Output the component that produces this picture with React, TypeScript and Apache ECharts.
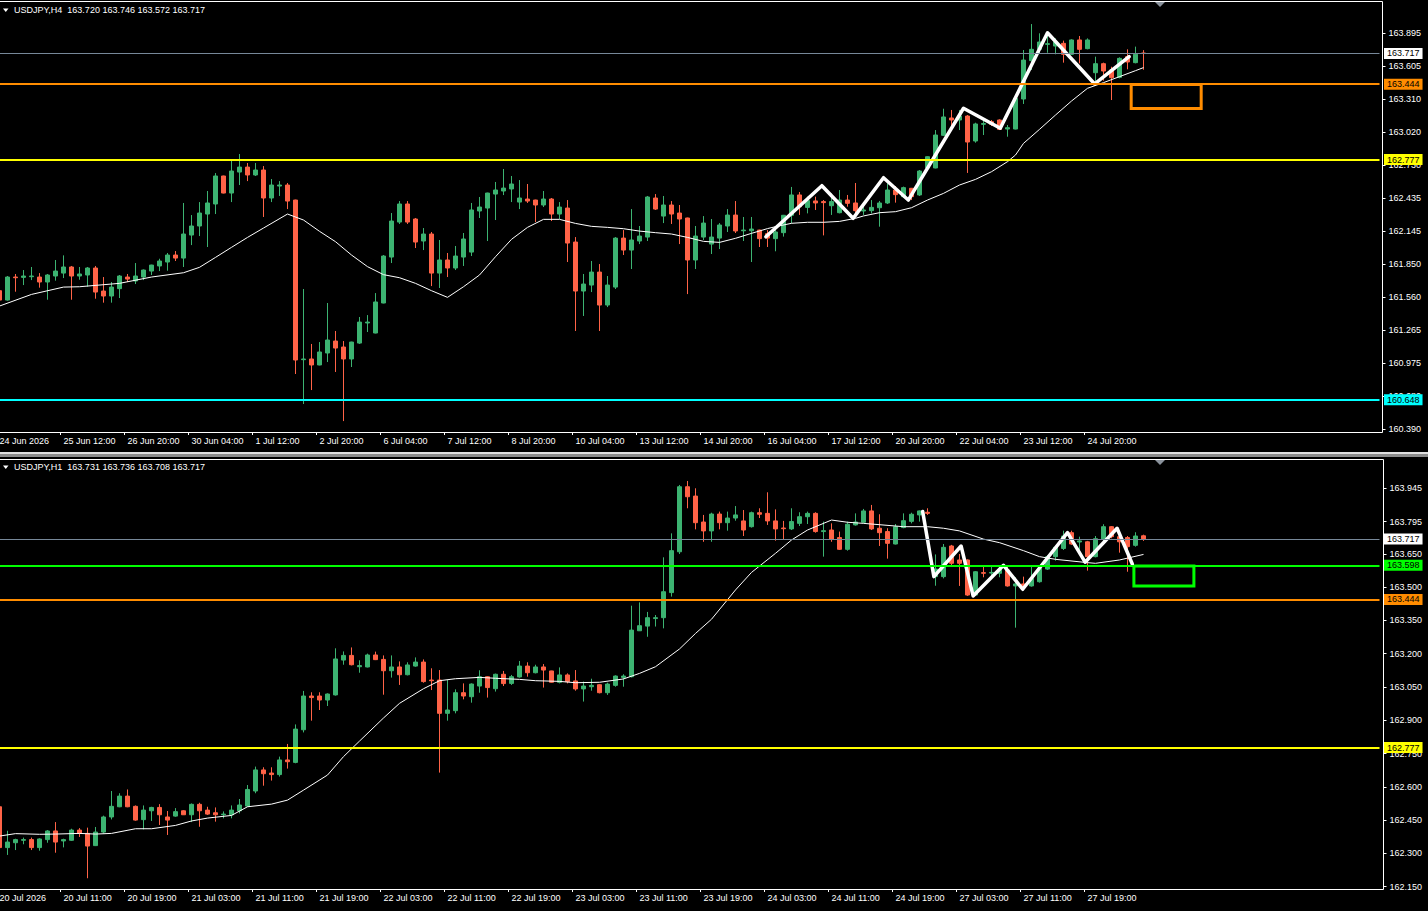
import React, { useEffect, useRef } from "react";
import * as echarts from "echarts";

// ---------- texts ----------
const topTitle = "USDJPY,H4  163.720 163.746 163.572 163.717";
const bottomTitle = "USDJPY,H1  163.731 163.736 163.708 163.717";

const topTickLabels = [
  "24 Jun 2026", "25 Jun 12:00", "26 Jun 20:00", "30 Jun 04:00", "1 Jul 12:00", "2 Jul 20:00",
  "6 Jul 04:00", "7 Jul 12:00", "8 Jul 20:00", "10 Jul 04:00", "13 Jul 12:00", "14 Jul 20:00",
  "16 Jul 04:00", "17 Jul 12:00", "20 Jul 20:00", "22 Jul 04:00", "23 Jul 12:00", "24 Jul 20:00",
];
const bottomTickLabels = [
  "20 Jul 2026", "20 Jul 11:00", "20 Jul 19:00", "21 Jul 03:00", "21 Jul 11:00", "21 Jul 19:00",
  "22 Jul 03:00", "22 Jul 11:00", "22 Jul 19:00", "23 Jul 03:00", "23 Jul 11:00", "23 Jul 19:00",
  "24 Jul 03:00", "24 Jul 11:00", "24 Jul 19:00", "27 Jul 03:00", "27 Jul 11:00", "27 Jul 19:00",
];
const topPriceTicks = [163.895, 163.605, 163.31, 163.02, 162.73, 162.435, 162.145, 161.85, 161.56, 161.265, 160.975, 160.68, 160.39];
const bottomPriceTicks = [163.945, 163.795, 163.65, 163.5, 163.35, 163.2, 163.05, 162.9, 162.75, 162.6, 162.45, 162.3, 162.15];

// ---------- H4 candles: [open, close, low, high] ----------
const topCandles = [
  [161.615,161.532,161.518,161.627],[161.532,161.736,161.526,161.745],[161.736,161.730,161.606,161.763],[161.733,161.745,161.665,161.798],
  [161.739,161.745,161.709,161.825],[161.736,161.692,161.642,161.771],[161.692,161.754,161.535,161.763],[161.745,161.789,161.704,161.887],
  [161.771,161.825,161.727,161.928],[161.825,161.745,161.535,161.834],[161.745,161.763,161.712,161.825],[161.754,161.816,161.650,161.825],
  [161.816,161.603,161.544,161.834],[161.612,161.568,161.509,161.736],[161.568,161.647,161.509,161.692],[161.633,161.745,161.550,161.754],
  [161.736,161.718,161.692,161.763],[161.701,161.745,161.674,161.860],[161.736,161.798,161.709,161.803],[161.789,161.842,161.754,161.845],
  [161.834,161.878,161.789,161.898],[161.869,161.931,161.792,161.949],[161.931,161.904,161.878,161.966],[161.904,162.117,161.825,162.392],
  [162.108,162.188,162.019,162.285],[162.188,162.303,162.099,162.400],[162.294,162.392,162.002,162.498],[162.383,162.631,162.294,162.657],
  [162.631,162.480,162.477,162.634],[162.480,162.675,162.400,162.764],[162.666,162.710,162.551,162.826],[162.710,162.640,162.586,162.746],
  [162.640,162.684,162.631,162.746],[162.684,162.436,162.268,162.719],[162.436,162.551,162.400,162.604],[162.542,162.551,162.454,162.586],
  [162.551,162.409,162.338,162.569],[162.418,161.001,160.877,162.421],[161.004,161.010,160.611,161.630],[161.010,160.957,160.735,161.143],
  [160.957,161.072,160.954,161.160],[161.063,161.178,160.983,161.506],[161.169,161.107,160.895,161.258],[161.116,161.010,160.460,161.169],
  [161.010,161.160,160.939,161.163],[161.151,161.337,161.143,161.382],[161.329,161.337,161.249,161.399],[161.240,161.515,161.237,161.594],
  [161.506,161.922,161.503,161.931],[161.913,162.232,161.860,162.303],[162.223,162.383,162.206,162.409],[162.383,162.223,162.206,162.409],
  [162.250,162.046,161.993,162.259],[162.055,162.117,161.975,162.170],[162.117,161.771,161.656,162.135],[161.771,161.887,161.639,162.064],
  [161.887,161.816,161.736,161.949],[161.816,161.922,161.798,162.011],[161.913,162.073,161.834,162.126],[161.957,162.330,161.922,162.392],
  [162.321,162.356,162.259,162.445],[162.347,162.480,162.055,162.483],[162.471,162.507,162.241,162.578],[162.498,162.524,162.462,162.693],
  [162.516,162.560,162.400,162.631],[162.400,162.436,162.338,162.595],[162.427,162.409,162.392,162.560],[162.418,162.374,162.223,162.421],
  [162.374,162.427,162.356,162.498],[162.427,162.294,162.232,162.436],[162.294,162.356,162.250,162.400],[162.347,162.037,161.869,162.418],
  [162.046,161.612,161.258,162.090],[161.612,161.674,161.391,161.763],[161.665,161.780,161.603,161.878],[161.780,161.488,161.258,161.851],
  [161.488,161.665,161.470,161.745],[161.647,162.081,161.630,162.090],[162.081,161.975,161.931,162.152],[161.975,162.064,161.807,162.338],
  [162.055,162.099,162.028,162.188],[162.090,162.445,162.055,162.454],[162.436,162.338,162.330,162.471],[162.276,162.374,162.214,162.454],
  [162.374,162.294,162.206,162.409],[162.303,162.250,162.028,162.374],[162.259,161.887,161.585,162.262],[161.887,162.099,161.807,162.188],
  [162.090,162.214,162.064,162.276],[162.028,162.090,161.940,162.250],[162.081,162.197,161.984,162.214],[162.188,162.285,162.135,162.338],
  [162.285,162.144,162.126,162.409],[162.146,162.152,162.055,162.268],[162.146,162.161,161.869,162.268],[162.152,162.076,162.002,162.155],
  [162.120,162.081,162.002,162.152],[162.076,162.135,161.964,162.164],[162.129,162.283,162.094,162.286],[162.283,162.463,162.212,162.534],
  [162.463,162.359,162.286,162.489],[162.353,162.413,162.300,162.448],[162.410,162.392,162.330,162.448],[162.404,162.395,162.105,162.418],
  [162.368,162.404,162.286,162.477],[162.306,162.418,162.300,162.507],[162.418,162.389,162.359,162.463],[162.392,162.324,162.271,162.569],
  [162.321,162.330,162.286,162.374],[162.324,162.353,162.300,162.418],[162.350,162.392,162.182,162.410],[162.392,162.507,162.383,162.566],
  [162.507,162.466,162.395,162.542],[162.448,162.528,162.439,162.537],[162.522,162.448,162.418,162.525],[162.463,162.675,162.454,162.684],
  [162.702,162.802,162.684,162.805],[162.702,162.994,162.699,163.038],[162.991,163.154,162.985,163.227],[163.145,163.127,163.038,163.216],
  [163.127,163.162,163.038,163.216],[163.162,162.932,162.658,163.171],[162.941,163.092,162.926,163.103],[163.089,163.095,162.994,163.136],
  [163.112,163.089,163.074,163.127],[163.127,163.044,163.038,163.133],[163.047,163.059,162.979,163.083],[163.047,163.319,163.044,163.322],
  [163.313,163.658,163.269,163.747],[163.653,163.753,163.570,163.977],[163.753,163.818,163.718,163.895],[163.797,163.803,163.723,163.901],
  [163.782,163.818,163.709,163.850],[163.806,163.709,163.635,163.830],[163.709,163.836,163.703,163.842],[163.836,163.753,163.629,163.871],
  [163.759,163.836,163.753,163.850],[163.546,163.626,163.467,163.688],[163.626,163.561,163.475,163.635],[163.570,163.502,163.304,163.599],
  [163.505,163.673,163.496,163.682],[163.688,163.641,163.576,163.753],[163.635,163.709,163.629,163.777],[163.720,163.717,163.572,163.746],
];

// ---------- H1 candles: [open, close, low, high] ----------
const bottomCandles = [
  [162.510,162.326,162.323,162.512],[162.326,162.351,162.293,162.402],[162.348,162.362,162.315,162.366],[162.359,162.362,162.341,162.371],
  [162.362,162.326,162.315,162.371],[162.326,162.365,162.312,162.368],[162.362,162.401,162.348,162.405],[162.401,162.351,162.303,162.441],
  [162.356,162.362,162.327,162.366],[162.359,162.405,162.356,162.411],[162.405,162.390,162.374,162.414],[162.390,162.333,162.188,162.416],
  [162.335,162.396,162.333,162.419],[162.396,162.464,162.390,162.470],[162.464,162.512,162.453,162.581],[162.510,162.558,162.508,162.571],
  [162.558,162.510,162.508,162.588],[162.512,162.450,162.447,162.516],[162.452,162.495,162.408,162.516],[162.492,162.507,162.446,162.510],
  [162.507,162.474,162.428,162.522],[162.464,162.450,162.383,162.491],[162.468,162.488,162.465,162.504],[162.492,162.474,162.473,162.495],
  [162.474,162.521,162.441,162.525],[162.521,162.492,162.420,162.528],[162.495,162.477,162.473,162.510],[162.483,162.474,162.443,162.507],
  [162.474,162.477,162.458,162.489],[162.474,162.495,162.458,162.516],[162.492,162.518,162.480,162.545],[162.513,162.588,162.510,162.608],
  [162.581,162.676,162.571,162.691],[162.676,162.659,162.605,162.688],[162.662,162.655,162.628,162.688],[162.655,162.721,162.646,162.736],
  [162.721,162.713,162.682,162.793],[162.710,162.860,162.706,162.881],[162.857,163.009,162.845,163.032],[163.009,163.002,162.898,163.026],
  [163.009,162.991,162.946,163.026],[162.991,163.018,162.964,163.021],[163.014,163.176,163.011,163.224],[163.171,163.192,163.150,163.210],
  [163.192,163.150,163.147,163.228],[163.141,163.146,163.114,163.170],[163.140,163.194,163.138,163.200],[163.194,163.173,163.171,163.209],
  [163.174,163.123,163.015,163.192],[163.123,163.140,163.092,163.192],[163.140,163.105,163.059,163.165],[163.105,163.149,163.102,163.161],
  [163.144,163.162,163.141,163.183],[163.162,163.074,163.069,163.174],[163.081,163.078,163.036,163.134],[163.081,162.931,162.664,163.126],
  [162.931,162.946,162.898,163.081],[162.943,163.024,162.931,163.039],[163.024,163.009,162.994,163.066],[163.006,163.063,162.979,163.066],
  [163.054,163.096,163.024,163.125],[163.096,163.047,163.002,163.099],[163.042,163.107,163.029,163.110],[163.107,163.065,163.054,163.122],
  [163.066,163.096,163.059,163.104],[163.095,163.144,163.092,163.167],[163.144,163.114,163.096,163.161],[163.114,163.140,163.111,163.150],
  [163.140,163.126,163.047,163.153],[163.122,163.071,163.069,163.123],[163.071,163.104,163.066,163.138],[163.104,163.074,163.066,163.111],
  [163.077,163.041,163.033,163.126],[163.041,163.054,162.984,163.074],[163.051,163.057,163.033,163.087],[163.060,163.024,163.021,163.063],
  [163.024,163.063,163.014,163.069],[163.057,163.099,163.051,163.102],[163.093,163.099,163.051,163.107],[163.096,163.306,163.093,163.416],
  [163.303,163.326,163.302,163.431],[163.324,163.362,163.276,163.388],[163.358,163.362,163.322,163.374],[163.362,163.479,163.314,163.634],
  [163.475,163.664,163.457,163.742],[163.659,163.952,163.649,163.960],[163.952,163.907,163.855,163.978],[163.910,163.790,163.760,163.945],
  [163.793,163.753,163.704,163.825],[163.753,163.829,163.704,163.835],[163.829,163.790,163.760,163.840],[163.790,163.811,163.754,163.840],
  [163.811,163.825,163.799,163.865],[163.798,163.757,163.730,163.847],[163.772,163.835,163.768,163.840],[163.835,163.828,163.811,163.855],
  [163.832,163.798,163.780,163.927],[163.798,163.762,163.709,163.850],[163.766,163.763,163.715,163.798],[163.762,163.795,163.757,163.855],
  [163.787,163.817,163.775,163.837],[163.817,163.832,163.784,163.840],[163.832,163.750,163.745,163.837],[163.750,163.754,163.637,163.795],
  [163.757,163.715,163.704,163.787],[163.723,163.670,163.667,163.750],[163.670,163.783,163.664,163.795],[163.780,163.793,163.777,163.832],
  [163.792,163.843,163.787,163.852],[163.843,163.762,163.757,163.870],[163.765,163.745,163.685,163.828],[163.750,163.697,163.628,163.765],
  [163.694,163.772,163.692,163.784],[163.768,163.799,163.765,163.832],[163.796,163.828,163.787,163.835],[163.825,163.843,163.795,163.845],
  [163.837,163.832,163.825,163.855],[163.547,163.581,163.506,163.647],[163.547,163.679,163.539,163.694],[163.685,163.607,163.595,163.690],
  [163.622,163.607,163.505,163.649],[163.622,163.464,163.460,163.625],[163.464,163.569,163.460,163.572],[163.565,163.562,163.544,163.592],
  [163.563,163.566,163.539,163.592],[163.562,163.580,163.544,163.595],[163.577,163.505,163.502,163.595],[163.505,163.514,163.317,163.544],
  [163.514,163.499,163.494,163.547],[163.505,163.539,163.502,163.595],[163.524,163.584,163.520,163.592],[163.581,163.637,163.577,163.644],
  [163.637,163.679,163.619,163.685],[163.674,163.730,163.667,163.754],[163.745,163.694,163.690,163.754],[163.703,163.708,163.659,163.727],
  [163.704,163.637,163.574,163.708],[163.637,163.718,163.634,163.730],[163.715,163.772,163.690,163.783],[163.772,163.727,163.720,163.775],
  [163.727,163.704,163.655,163.735],[163.723,163.682,163.569,163.730],[163.688,163.730,163.682,163.747],[163.731,163.717,163.708,163.736],
];

// ---------- moving averages: [bar index, price] ----------
const topMA = [
  [0,161.479],[4,161.582],[8,161.647],[10,161.650],[15,161.680],[19,161.736],[23,161.774],[25,161.822],[27,161.910],[29,161.999],
  [31,162.087],[33,162.170],[36,162.294],[38,162.241],[40,162.141],[42,162.049],[44,161.931],[46,161.828],[48,161.757],[50,161.730],
  [52,161.680],[54,161.615],[56,161.556],[58,161.650],[60,161.754],[62,161.916],[64,162.070],[66,162.176],[68,162.247],[70,162.247],
  [72,162.211],[74,162.185],[76,162.176],[78,162.164],[80,162.143],[82,162.129],[84,162.117],[86,162.087],[88,162.052],[90,162.043],
  [92,162.079],[94,162.123],[96,162.165],[97,162.182],[99,162.212],[101,162.221],[103,162.221],[105,162.229],[107,162.256],[108,162.277],
  [110,162.306],[112,162.315],[114,162.350],[116,162.418],[118,162.477],[120,162.551],[122,162.601],[124,162.669],[126,162.758],[127,162.817],
  [128,162.920],[130,163.044],[132,163.171],[134,163.295],[136,163.408],[138,163.458],[140,163.511],[142,163.564],[143,163.591],
];
const bottomMA = [
  [0,162.378],[2,162.389],[5,162.386],[7,162.387],[10,162.390],[12,162.387],[14,162.390],[17,162.411],[19,162.411],[22,162.426],
  [24,162.446],[26,162.459],[29,162.471],[31,162.510],[34,162.522],[36,162.540],[38,162.585],[41,162.653],[43,162.736],[45,162.806],
  [48,162.910],[50,162.976],[53,163.042],[55,163.078],[57,163.087],[60,163.093],[62,163.089],[65,163.084],[67,163.078],[70,163.075],
  [72,163.069],[75,163.071],[78,163.086],[80,163.111],[82,163.141],[85,163.221],[87,163.291],[89,163.355],[92,163.487],[94,163.566],
  [97,163.652],[99,163.712],[101,163.757],[104,163.802],[106,163.792],[108,163.787],[113,163.772],[116,163.772],[118,163.765],[120,163.753],
  [123,163.716],[125,163.700],[128,163.664],[130,163.637],[132,163.625],[136,163.610],[137,163.607],[140,163.622],[143,163.647],
];

// ---------- hand-drawn zigzags: [bar position, price] ----------
const topZigzag = [
  [95.8,162.093],[102.8,162.545],[106.7,162.256],[110.5,162.616],[113.6,162.418],
  [120.5,163.231],[125.1,163.054],[131,163.900],[136.9,163.446],[141.2,163.688],
];
const bottomZigzag = [
  [115.4,163.840],[116.8,163.547],[120.2,163.685],[121.7,163.460],[125.5,163.598],
  [127.9,163.490],[133.5,163.745],[135.7,163.612],[139.7,163.765],[141.6,163.604],
];

// ---------- price levels and zones ----------
const topBid = 163.717;
const bottomBid = 163.717;
const topLevels = [163.444, 162.777, 160.648];
const bottomLevels = [163.598, 163.444, 162.777];
const topZone = [[141.46, 163.4415], [150.21, 163.2289]];
const bottomZone = [[141.8, 163.595], [149.3, 163.505]];

// ---------- styling ----------
const FONT = "Liberation Sans";
const BULL = "#3CB371";
const BEAR = "#FF6347";
const NCAT = 173;
const categories = Array.from({ length: NCAT }, (_, i) => String(i));

function levelLine(value: number, color: string, width: number) {
  return {
    yAxis: value,
    lineStyle: { color, width, type: "solid" },
    label: {
      show: true,
      position: "end",
      distance: 4.5,
      formatter: () => value.toFixed(3),
      color: "#000",
      backgroundColor: color === "#778899" ? "#ffffff" : color,
      padding: [1, 3, 0, 3],
      fontSize: 9,
      lineHeight: 10,
      fontFamily: FONT,
    },
  };
}

function buildPanel(
  idx: number,
  top: number,
  min: number,
  max: number,
  axisOffset: number,
  tickLabels: string[],
  priceTicks: number[],
  candles: number[][],
  ma: number[][],
  zig: number[][],
  bid: number,
  levels: number[],
  levelColors: string[],
  zone: number[][],
  zoneColor: string
) {
  const tickIdx = tickLabels.map((_, k) => k * 8);
  const grid = { left: -4.5, top, width: NCAT * 8, height: 430, outerBoundsMode: "none", containLabel: false };
  const xCat = {
    type: "category",
    gridIndex: idx,
    data: categories,
    boundaryGap: true,
    show: false,
    axisLine: { show: false, onZero: false },
    axisTick: { show: false },
    axisLabel: { show: false },
  };
  const xVal = {
    type: "value",
    gridIndex: idx,
    min: -0.5,
    max: NCAT - 0.5,
    position: "bottom",
    axisLine: { show: false, onZero: false },
    splitLine: { show: false },
    axisTick: { show: true, customValues: tickIdx.map((i) => i - 0.35), length: 3, lineStyle: { color: "#ffffff", width: 1 } },
    axisLabel: {
      show: true,
      customValues: tickIdx,
      formatter: (v: number) => tickLabels[Math.round(v / 8)] ?? "",
      color: "#ffffff",
      fontSize: 9,
      fontFamily: FONT,
      align: "left",
      margin: 4,
      hideOverlap: false,
    },
  };
  const y = {
    type: "value",
    gridIndex: idx,
    position: "right",
    offset: axisOffset,
    min,
    max,
    axisLine: { show: false, onZero: false },
    splitLine: { show: false },
    axisTick: { show: true, customValues: priceTicks, length: 3, lineStyle: { color: "#ffffff", width: 1 } },
    axisLabel: {
      show: true,
      customValues: priceTicks,
      formatter: (v: number) => v.toFixed(3),
      color: "#ffffff",
      fontSize: 9,
      fontFamily: FONT,
      margin: 6,
      hideOverlap: false,
    },
  };
  const series = [
    {
      type: "candlestick",
      xAxisIndex: idx * 2,
      yAxisIndex: idx,
      data: candles,
      barWidth: 4,
      large: false,
      itemStyle: {
        color: BULL,
        color0: BEAR,
        borderColor: BULL,
        borderColor0: BEAR,
        borderColorDoji: BULL,
        borderWidth: 1,
      },
      markLine: {
        silent: true,
        symbol: ["none", "none"],
        precision: 3,
        animation: false,
        data: [
          levelLine(bid, "#778899", 1),
          ...levels.map((v, k) => levelLine(v, levelColors[k], 2)),
        ],
      },
      z: 2,
    },
    {
      type: "line",
      xAxisIndex: idx * 2 + 1,
      yAxisIndex: idx,
      data: ma,
      symbol: "none",
      lineStyle: { color: "#ffffff", width: 1 },
      z: 3,
      silent: true,
    },
    {
      type: "line",
      xAxisIndex: idx * 2 + 1,
      yAxisIndex: idx,
      data: zig,
      symbol: "none",
      lineStyle: { color: "#ffffff", width: 3.5, cap: "round", join: "round" },
      z: 4,
      silent: true,
      markArea: {
        silent: true,
        itemStyle: { color: "rgba(0,0,0,0)", borderColor: zoneColor, borderWidth: 3 },
        data: [[{ coord: zone[0] }, { coord: zone[1] }]],
      },
    },
  ];
  return { grid, xAxes: [xCat, xVal], y, series };
}

function buildOption() {
  const p1 = buildPanel(0, 2, 160.3633, 164.1723, 3, topTickLabels, topPriceTicks, topCandles, topMA, topZigzag,
    topBid, topLevels, ["#FF8C00", "#FFFF00", "#00FFFF"], topZone, "#FF8C00");
  const p2 = buildPanel(1, 459, 162.1395, 164.077, 4, bottomTickLabels, bottomPriceTicks, bottomCandles, bottomMA, bottomZigzag,
    bottomBid, bottomLevels, ["#00FF00", "#FF8C00", "#FFFF00"], bottomZone, "#00FF00");

  const headerFont = `9px "${FONT}"`;
  const graphic = [
    { type: "rect", silent: true, z: 10, shape: { x: -2, y: 1.5, width: 1384.5, height: 431 }, style: { fill: "none", stroke: "#ffffff", lineWidth: 1 } },
    { type: "rect", silent: true, z: 10, shape: { x: -2, y: 459.5, width: 1385.5, height: 430 }, style: { fill: "none", stroke: "#ffffff", lineWidth: 1 } },
    { type: "rect", silent: true, z: 10, shape: { x: 0, y: 452, width: 1428, height: 5 }, style: { fill: "#8c8c8c" } },
    { type: "rect", silent: true, z: 11, shape: { x: 0, y: 452, width: 1428, height: 2 }, style: { fill: "#e0e0e0" } },
    { type: "polygon", silent: true, z: 10, shape: { points: [[3, 8.5], [8.5, 8.5], [5.75, 12]] }, style: { fill: "#ffffff" } },
    { type: "text", silent: true, z: 10, x: 14, y: 10, style: { text: topTitle, fill: "#ffffff", font: headerFont, verticalAlign: "middle" } },
    { type: "polygon", silent: true, z: 10, shape: { points: [[3, 465.5], [8.5, 465.5], [5.75, 469]] }, style: { fill: "#ffffff" } },
    { type: "text", silent: true, z: 10, x: 14, y: 467, style: { text: bottomTitle, fill: "#ffffff", font: headerFont, verticalAlign: "middle" } },
    { type: "polygon", silent: true, z: 10, shape: { points: [[1155, 2], [1165, 2], [1160, 7]] }, style: { fill: "#8a929c" } },
    { type: "polygon", silent: true, z: 10, shape: { points: [[1155, 460], [1165, 460], [1160, 465]] }, style: { fill: "#8a929c" } },
  ];

  return {
    animation: false,
    backgroundColor: "#000000",
    textStyle: { fontFamily: FONT },
    grid: [p1.grid, p2.grid],
    xAxis: [...p1.xAxes, ...p2.xAxes],
    yAxis: [p1.y, p2.y],
    series: [...p1.series, ...p2.series],
    graphic,
  };
}

export default function App() {
  const ref = useRef<HTMLDivElement>(null);
  useEffect(() => {
    document.body.style.margin = "0";
    document.body.style.background = "#000";
    const chart = echarts.init(ref.current as HTMLDivElement, null, { renderer: "svg", width: 1428, height: 911 });
    chart.setOption(buildOption() as any);
    return () => chart.dispose();
  }, []);
  return (
    <div
      ref={ref}
      style={{ position: "absolute", left: 0, top: 0, width: 1428, height: 911, background: "#000" }}
    />
  );
}
